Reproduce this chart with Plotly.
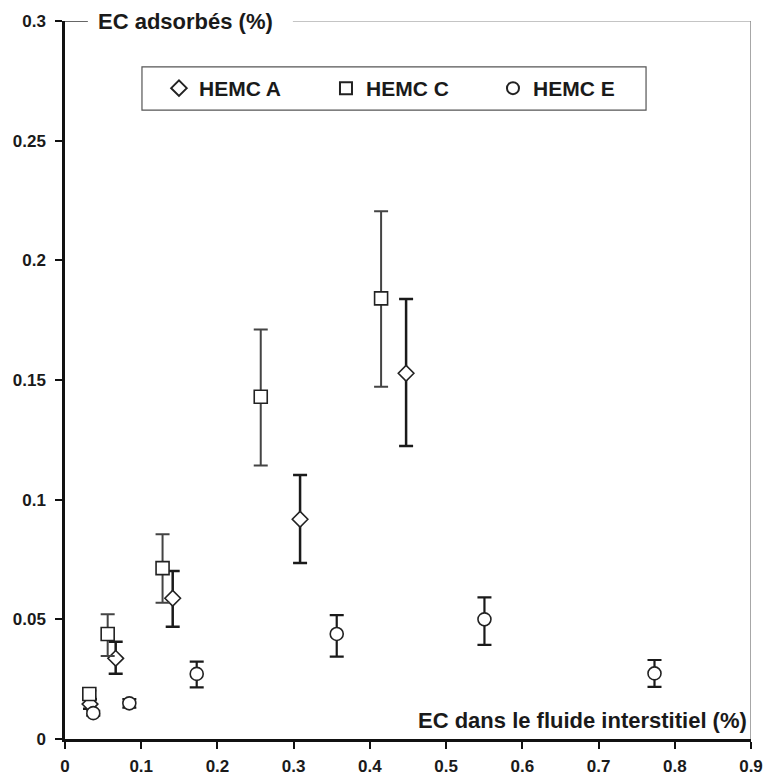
import plotly.graph_objects as go

# HEMC A (diamonds)
a_x = [0.0328, 0.0665, 0.1413, 0.3084, 0.4475]
a_y = [0.0146, 0.0337, 0.0588, 0.0918, 0.1528]
a_hi = [0.0166, 0.0406, 0.0702, 0.1103, 0.1838]
a_lo = [0.0126, 0.0273, 0.0469, 0.0735, 0.1224]

# HEMC C (squares)
c_x = [0.0319, 0.0560, 0.1280, 0.2568, 0.4147]
c_y = [0.0188, 0.0439, 0.0714, 0.1430, 0.1841]
c_hi = [0.0203, 0.0521, 0.0856, 0.1711, 0.2205]
c_lo = [0.0173, 0.0347, 0.0569, 0.1143, 0.1472]

# HEMC E (circles)
e_x = [0.0371, 0.0844, 0.1728, 0.3565, 0.5503, 0.7734]
e_y = [0.0108, 0.0149, 0.0272, 0.0439, 0.0500, 0.0274]
e_hi = [0.0118, 0.0167, 0.0323, 0.0518, 0.0592, 0.0330]
e_lo = [0.0098, 0.0131, 0.0216, 0.0344, 0.0393, 0.0218]

x_ticks = [0, 0.1, 0.2, 0.3, 0.4, 0.5, 0.6, 0.7, 0.8, 0.9]
x_labels = ["0", "0.1", "0.2", "0.3", "0.4", "0.5", "0.6", "0.7", "0.8", "0.9"]
y_ticks = [0, 0.05, 0.1, 0.15, 0.2, 0.25, 0.3]
y_labels = ["0", "0.05", "0.1", "0.15", "0.2", "0.25", "0.3"]

FONT = "Liberation Sans, Arial, sans-serif"
TXT = "#1a1a1a"


def series(name, xs, ys, hi, lo, symbol, size, ecolor, ewidth):
    return go.Scatter(
        x=xs, y=ys, mode="markers", name=name,
        marker=dict(symbol=symbol, size=size, color="white",
                    line=dict(color="#222222", width=1.6)),
        error_y=dict(type="data", symmetric=False,
                     array=[h - v for h, v in zip(hi, ys)],
                     arrayminus=[v - l for v, l in zip(ys, lo)],
                     color=ecolor, thickness=ewidth, width=7),
    )


fig = go.Figure()
fig.add_trace(series("HEMC A", a_x, a_y, a_hi, a_lo, "diamond", 12, "#1a1a1a", 2.5))
fig.add_trace(series("HEMC C", c_x, c_y, c_hi, c_lo, "square", 13, "#444444", 2))
fig.add_trace(series("HEMC E", e_x, e_y, e_hi, e_lo, "circle", 13, "#1a1a1a", 2.2))

fig.update_layout(
    width=768, height=778,
    margin=dict(l=65, r=17, t=21, b=39, autoexpand=False),
    paper_bgcolor="white", plot_bgcolor="white",
    font=dict(family=FONT, color=TXT),
    showlegend=True,
    legend=dict(
        orientation="h", x=0.137, xanchor="left", y=0.906, yanchor="middle",
        font=dict(size=21, family=FONT, weight="bold", color=TXT),
        bgcolor="rgba(0,0,0,0)", borderwidth=0,
        entrywidth=122, entrywidthmode="pixels",
        itemsizing="constant",
    ),
    xaxis=dict(
        range=[0, 0.9], tickvals=x_ticks, ticktext=x_labels,
        showgrid=False, zeroline=False, automargin=False,
        showline=True, linecolor="#111111", linewidth=2.5,
        ticks="outside", ticklen=7, tickwidth=2, tickcolor="#111111",
        ticklabelstandoff=3,
        tickfont=dict(size=17, family=FONT, weight="bold", color=TXT),
    ),
    yaxis=dict(
        range=[0, 0.3], tickvals=y_ticks, ticktext=y_labels,
        showgrid=False, zeroline=False, automargin=False,
        showline=True, linecolor="#111111", linewidth=2.5,
        ticks="outside", ticklen=7, tickwidth=2, tickcolor="#111111",
        ticklabelstandoff=6,
        tickfont=dict(size=17, family=FONT, weight="bold", color=TXT),
    ),
    shapes=[
        dict(type="line", xref="x", yref="y", x0=0, x1=0.030, y0=0.3, y1=0.3,
             line=dict(color="#333333", width=1.5), layer="below"),
        dict(type="line", xref="x", yref="y", x0=0.299, x1=0.9, y0=0.3, y1=0.3,
             line=dict(color="#8a8a8a", width=1.2), layer="below"),
        dict(type="line", xref="x", yref="y", x0=0.9, x1=0.9, y0=0, y1=0.3,
             line=dict(color="#8a8a8a", width=1.5), layer="below"),
        dict(type="rect", xref="paper", yref="paper",
             x0=0.1122, x1=0.847, y0=0.876, y1=0.936,
             line=dict(color="#555555", width=1.2), fillcolor="white", layer="below"),
    ],
    annotations=[
        dict(text="EC adsorbés (%)", xref="x", yref="y", x=0.0407, y=0.3,
             xanchor="left", yanchor="middle", showarrow=False,
             font=dict(size=22, family=FONT, weight="bold", color=TXT)),
        dict(text="EC dans le fluide interstitiel (%)", xref="paper", yref="y",
             x=1, y=0.0079, xanchor="right", yanchor="middle", xshift=-2,
             showarrow=False,
             font=dict(size=22, family=FONT, weight="bold", color=TXT)),
    ],
)

fig.write_html("out.html")
